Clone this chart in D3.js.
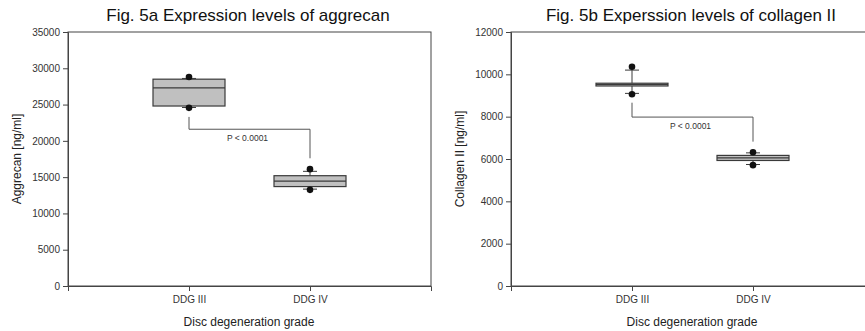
<!DOCTYPE html>
<html>
<head>
<meta charset="utf-8">
<script src="https://cdnjs.cloudflare.com/ajax/libs/d3/7.8.5/d3.min.js"></script>
<style>
  body { margin: 0; background: #fff; }
  svg { display: block; font-family: "Liberation Sans", Arial, sans-serif; }
</style>
</head>
<body>
<div id="chart"></div>
<script>
// categories on the x axis
var categories = ["DDG III", "DDG IV"];

// Fig. 5a aggrecan [ng/ml]
var aggrecanQ1 = [24800, 13700];
var aggrecanMedian = [27300, 14450];
var aggrecanQ3 = [28500, 15200];
var aggrecanWhiskerLow = [24600, 13350];
var aggrecanWhiskerHigh = [28600, 15800];
var aggrecanDots = [[28800, 24550], [16100, 13250]];
var aggrecanBracket = [23300, 21600, 17600];
var aggrecanTicks = [0, 5000, 10000, 15000, 20000, 25000, 30000, 35000];

// Fig. 5b collagen II [ng/ml]
var collagenQ1 = [9450, 5930];
var collagenMedian = [9520, 6050];
var collagenQ3 = [9580, 6170];
var collagenWhiskerLow = [9100, 5740];
var collagenWhiskerHigh = [10200, 6290];
var collagenDots = [[10360, 9060], [6320, 5710]];
var collagenBracket = [8660, 7980, 6820];
var collagenTicks = [0, 2000, 4000, 6000, 8000, 10000, 12000];

var svg = d3.select("#chart").append("svg")
    .attr("width", 865)
    .attr("height", 331);

function drawPanel(opt) {
    var x = d3.scaleLinear().domain([0, 3]).range([opt.left, opt.left + 363]);
    var y = d3.scaleLinear().domain([0, opt.max]).range([286, 32]);
    var g = svg.append("g");
    var stroke = "#3a3a3a";

    // frame
    g.append("rect")
        .attr("x", opt.left).attr("y", 32)
        .attr("width", 363).attr("height", 254)
        .attr("fill", "none").attr("stroke", "#444").attr("stroke-width", 1);

    // y axis
    var yAxis = g.append("g")
        .attr("transform", "translate(" + opt.left + ",0)")
        .call(d3.axisLeft(y).tickValues(opt.ticks).tickSize(5).tickPadding(3).tickFormat(d3.format("d")));
    yAxis.select(".domain").attr("stroke", "#444");
    yAxis.selectAll("line").attr("stroke", "#444");
    yAxis.selectAll("text").attr("font-size", 10).attr("fill", "#333")
        .attr("font-family", "Liberation Sans, Arial, sans-serif");

    // x axis
    var xAxis = g.append("g")
        .attr("transform", "translate(0,286)")
        .call(d3.axisBottom(x).tickValues([1, 2]).tickSize(5).tickPadding(5)
            .tickFormat(function(d) { return categories[d - 1]; }));
    xAxis.select(".domain").attr("stroke", "#444");
    xAxis.selectAll("line").attr("stroke", "#444");
    xAxis.selectAll("text").attr("font-size", 10).attr("fill", "#333")
        .attr("font-family", "Liberation Sans, Arial, sans-serif");

    var boxW = 72, capW = 14;
    categories.forEach(function(c, i) {
        var cx = x(i + 1);
        // whisker
        g.append("line")
            .attr("x1", cx).attr("x2", cx)
            .attr("y1", y(opt.whiskerHigh[i])).attr("y2", y(opt.whiskerLow[i]))
            .attr("stroke", stroke);
        [opt.whiskerHigh[i], opt.whiskerLow[i]].forEach(function(v) {
            g.append("line")
                .attr("x1", cx - capW / 2).attr("x2", cx + capW / 2)
                .attr("y1", y(v)).attr("y2", y(v))
                .attr("stroke", stroke);
        });
        // box
        g.append("rect")
            .attr("x", cx - boxW / 2).attr("width", boxW)
            .attr("y", y(opt.q3[i])).attr("height", y(opt.q1[i]) - y(opt.q3[i]))
            .attr("fill", "#c0c0c0").attr("stroke", stroke).attr("stroke-width", 1.2);
        g.append("line")
            .attr("x1", cx - boxW / 2).attr("x2", cx + boxW / 2)
            .attr("y1", y(opt.median[i])).attr("y2", y(opt.median[i]))
            .attr("stroke", stroke).attr("stroke-width", 1.2);
        // dots
        opt.dots[i].forEach(function(v) {
            g.append("circle")
                .attr("cx", cx).attr("cy", y(v)).attr("r", 3.3)
                .attr("fill", "#111");
        });
    });

    // significance bracket
    var b = opt.bracket;
    g.append("path")
        .attr("d", "M" + x(1) + "," + y(b[0]) + "V" + y(b[1]) + "H" + x(2) + "V" + y(b[2]))
        .attr("fill", "none").attr("stroke", "#555").attr("stroke-width", 1);
    g.append("text")
        .attr("x", (x(1) + x(2)) / 2 - 2).attr("y", y(b[1]) + 12)
        .attr("text-anchor", "middle").attr("font-size", 8.5).attr("fill", "#333")
        .text("P < 0.0001");

    // titles
    g.append("text")
        .attr("x", opt.left + 180).attr("y", 21)
        .attr("text-anchor", "middle").attr("font-size", 17).attr("fill", "#111")
        .text(opt.title);
    g.append("text")
        .attr("x", opt.left + 181).attr("y", 326)
        .attr("text-anchor", "middle").attr("font-size", 12).attr("fill", "#222")
        .text("Disc degeneration grade");
    g.append("text")
        .attr("transform", "translate(" + opt.labelX + ",159) rotate(-90)")
        .attr("text-anchor", "middle").attr("font-size", 12).attr("fill", "#222")
        .text(opt.yLabel);
}

drawPanel({
    left: 68, max: 35000, ticks: aggrecanTicks,
    q1: aggrecanQ1, median: aggrecanMedian, q3: aggrecanQ3,
    whiskerLow: aggrecanWhiskerLow, whiskerHigh: aggrecanWhiskerHigh,
    dots: aggrecanDots, bracket: aggrecanBracket,
    title: "Fig. 5a Expression levels of aggrecan",
    yLabel: "Aggrecan [ng/ml]", labelX: 21
});

drawPanel({
    left: 511, max: 12000, ticks: collagenTicks,
    q1: collagenQ1, median: collagenMedian, q3: collagenQ3,
    whiskerLow: collagenWhiskerLow, whiskerHigh: collagenWhiskerHigh,
    dots: collagenDots, bracket: collagenBracket,
    title: "Fig. 5b Experssion levels of collagen II",
    yLabel: "Collagen II [ng/ml]", labelX: 464
});
</script>
</body>
</html>
